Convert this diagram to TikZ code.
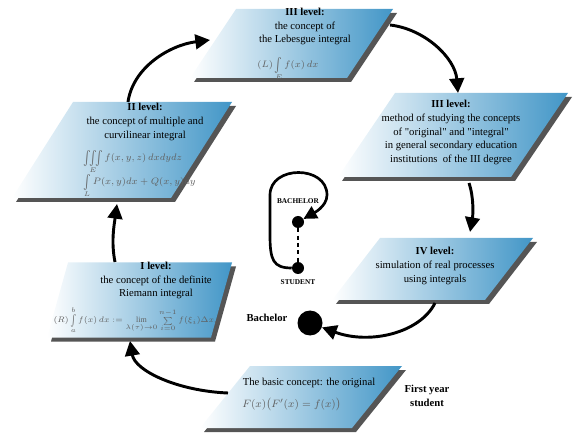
\documentclass[tikz,border=0pt]{standalone}
\usepackage{amsmath}
\usepackage{fontspec}
\setmainfont{Liberation Serif}
\usetikzlibrary{arrows.meta,calc}
\definecolor{pblue}{RGB}{66,150,199}
\definecolor{pshadow}{RGB}{85,85,85}
\definecolor{fgray}{RGB}{95,95,95}
% #1 name, #2 cx, #3 cy, #4 width, #5 height, #6 slant offset (pixels)
\newcommand\parabox[6]{%
  \fill[pshadow] ({#2-#4/2+4},{#3+#5/2+4}) -- ({#2+#4/2-#6+4},{#3+#5/2+4})
     -- ({#2+#4/2+4},{#3-#5/2+4}) -- ({#2-#4/2+#6+4},{#3-#5/2+4}) -- cycle;
  \shade[left color=white, right color=pblue] ({#2-#4/2},{#3+#5/2}) -- ({#2+#4/2-#6},{#3+#5/2})
     -- ({#2+#4/2},{#3-#5/2}) -- ({#2-#4/2+#6},{#3-#5/2}) -- cycle;
  \node[boxanchor] (#1) at (#2,#3) {};}
\newcommand\qq{\textquotedbl}
\newcommand\bint{\mathop{\vcenter{\hbox{\scalebox{1}[1.45]{$\int$}}}}\limits}
\newcommand\biiint{\mathop{\vcenter{\hbox{\scalebox{1}[1.45]{$\iiint$}}}}\limits}
\begin{document}
\begin{tikzpicture}[x=0.75pt,y=-0.75pt,
  boxanchor/.style={inner sep=0pt, outer sep=0pt, minimum size=1pt},
  txt/.style={font=\fontsize{8}{10.2}\selectfont, align=center, inner sep=0pt},
  fml/.style={font=\fontsize{7.5}{9}\selectfont, text=fgray, inner sep=0pt},
  lbl/.style={font=\fontsize{8}{10}\selectfont\bfseries, align=center, inner sep=0pt},
  tiny/.style={font=\fontsize{5.5}{6}\selectfont\bfseries, inner sep=0pt},
  arr/.style={line width=2.2pt, -{Triangle[length=11pt,width=11pt]}},
  bigdot/.style={circle, fill=black, inner sep=0pt, minimum size=18.75pt},
  smalldot/.style={circle, fill=black, inner sep=0pt, minimum size=9pt},
]
\useasboundingbox (0,0) rectangle (574,434);

% boxes
\parabox{b3t}{291.5}{43.5}{203}{69}{46}
\parabox{b2}{122}{150}{220}{96}{61}
\parabox{b3r}{453}{135}{230}{84}{57}
\parabox{b4}{432.5}{269}{201}{62}{48}
\parabox{b1}{139.5}{300}{185}{75}{21}
\parabox{b0}{301}{397}{202}{62}{50}

% texts
\node[txt] (t3t) at (305,26.5) {\textbf{III level:}\\the concept of\\the Lebesgue integral};
\node[fml, anchor=base] (f3t) at (288,67.5) {$(L)\bint_E f(x)\,dx$};

\node[txt] (t2) at (145,122) {\textbf{II level:}\\the concept of multiple and\\curvilinear integral};
\node[fml, anchor=base west] (f2a) at (83,161) {$\biiint_E f(x,y,z)\,dxdydz$};
\node[fml, anchor=base west] (f2b) at (83,185) {$\bint_L P(x,y)dx+Q(x,y)dy$};

\node[txt] (t3r) at (451,132.5) {\textbf{III level:}\\method of studying the concepts\\of \qq original\qq{} and \qq integral\qq\\in general secondary education\\institutions\ \ of the III degree};

\node[txt] (t4) at (435,266) {\textbf{IV level:}\\simulation of real processes\\using integrals};

\node[txt] (t1) at (156,280.5) {\textbf{I level:}\\the concept of the definite\\Riemann integral};
\node[fml, font=\fontsize{6}{7}\selectfont, anchor=base] (f1) at (136,323) {$(R)\bint_a^b f(x)\,dx:=\lim\limits_{\lambda(\tau)\to0}\sum\limits_{i=0}^{n-1}f(\xi_i)\Delta x_i$};

\node[txt] (t0) at (309,383) {The basic concept: the original};
\node[fml, font=\fontsize{8}{10}\selectfont, anchor=base west] (f0) at (242,407) {$F(x)\bigl(F'(x)=f(x)\bigr)$};

\node[lbl] (fy) at (427,396) {First year\\student};
\node[lbl] (bach) at (267,318) {Bachelor};
\node[bigdot] (bd) at (310,323) {};

% small loop
\node[smalldot] (st) at (298,222) {};
\node[smalldot] (ss) at (298,268) {};
\node[tiny] (lb) at (298,201) {BACHELOR};
\node[tiny] (ls) at (298,282) {STUDENT};
\draw[line width=2.2pt, dash pattern=on 3pt off 2.5pt] (st) -- (ss);
\draw[line width=2pt, -{Triangle[length=10pt,width=10pt]}]
  (ss) .. controls +(-25,0) and +(0,25) .. (270,235) -- (270,195)
  .. controls +(0,-30) and +(0,-30) .. (327,195)
  .. controls +(0,12) and +(14,-8) .. (st);

% arrows
\draw[arr] ($(b0.center)+(-73,-4)$) .. controls +(-50,-2) and +(5,30) .. ($(b1.center)+(-9.5,41)$);
\draw[arr] ($(b1.center)+(-24.5,-38)$) .. controls +(-4,-20) and +(-3,22) .. ($(b2.center)+(-5,54)$);
\draw[arr] ($(b2.center)+(6,-48)$) .. controls +(5,-35) and +(-40,5) .. ($(b3t.center)+(-81.5,-3.5)$);
\draw[arr] ($(b3t.center)+(98.5,-18.5)$) .. controls +(35,4) and +(-3,-35) .. ($(b3r.center)+(5,-42)$);
\draw[arr] ($(b3r.center)+(16,48)$) .. controls +(5,15) and +(3,-17) .. ($(b4.center)+(37.5,-37)$);
\draw[arr] ($(b4.center)+(2.5,34)$) .. controls +(-15,30) and +(60,22) .. (bd);
\end{tikzpicture}
\end{document}
